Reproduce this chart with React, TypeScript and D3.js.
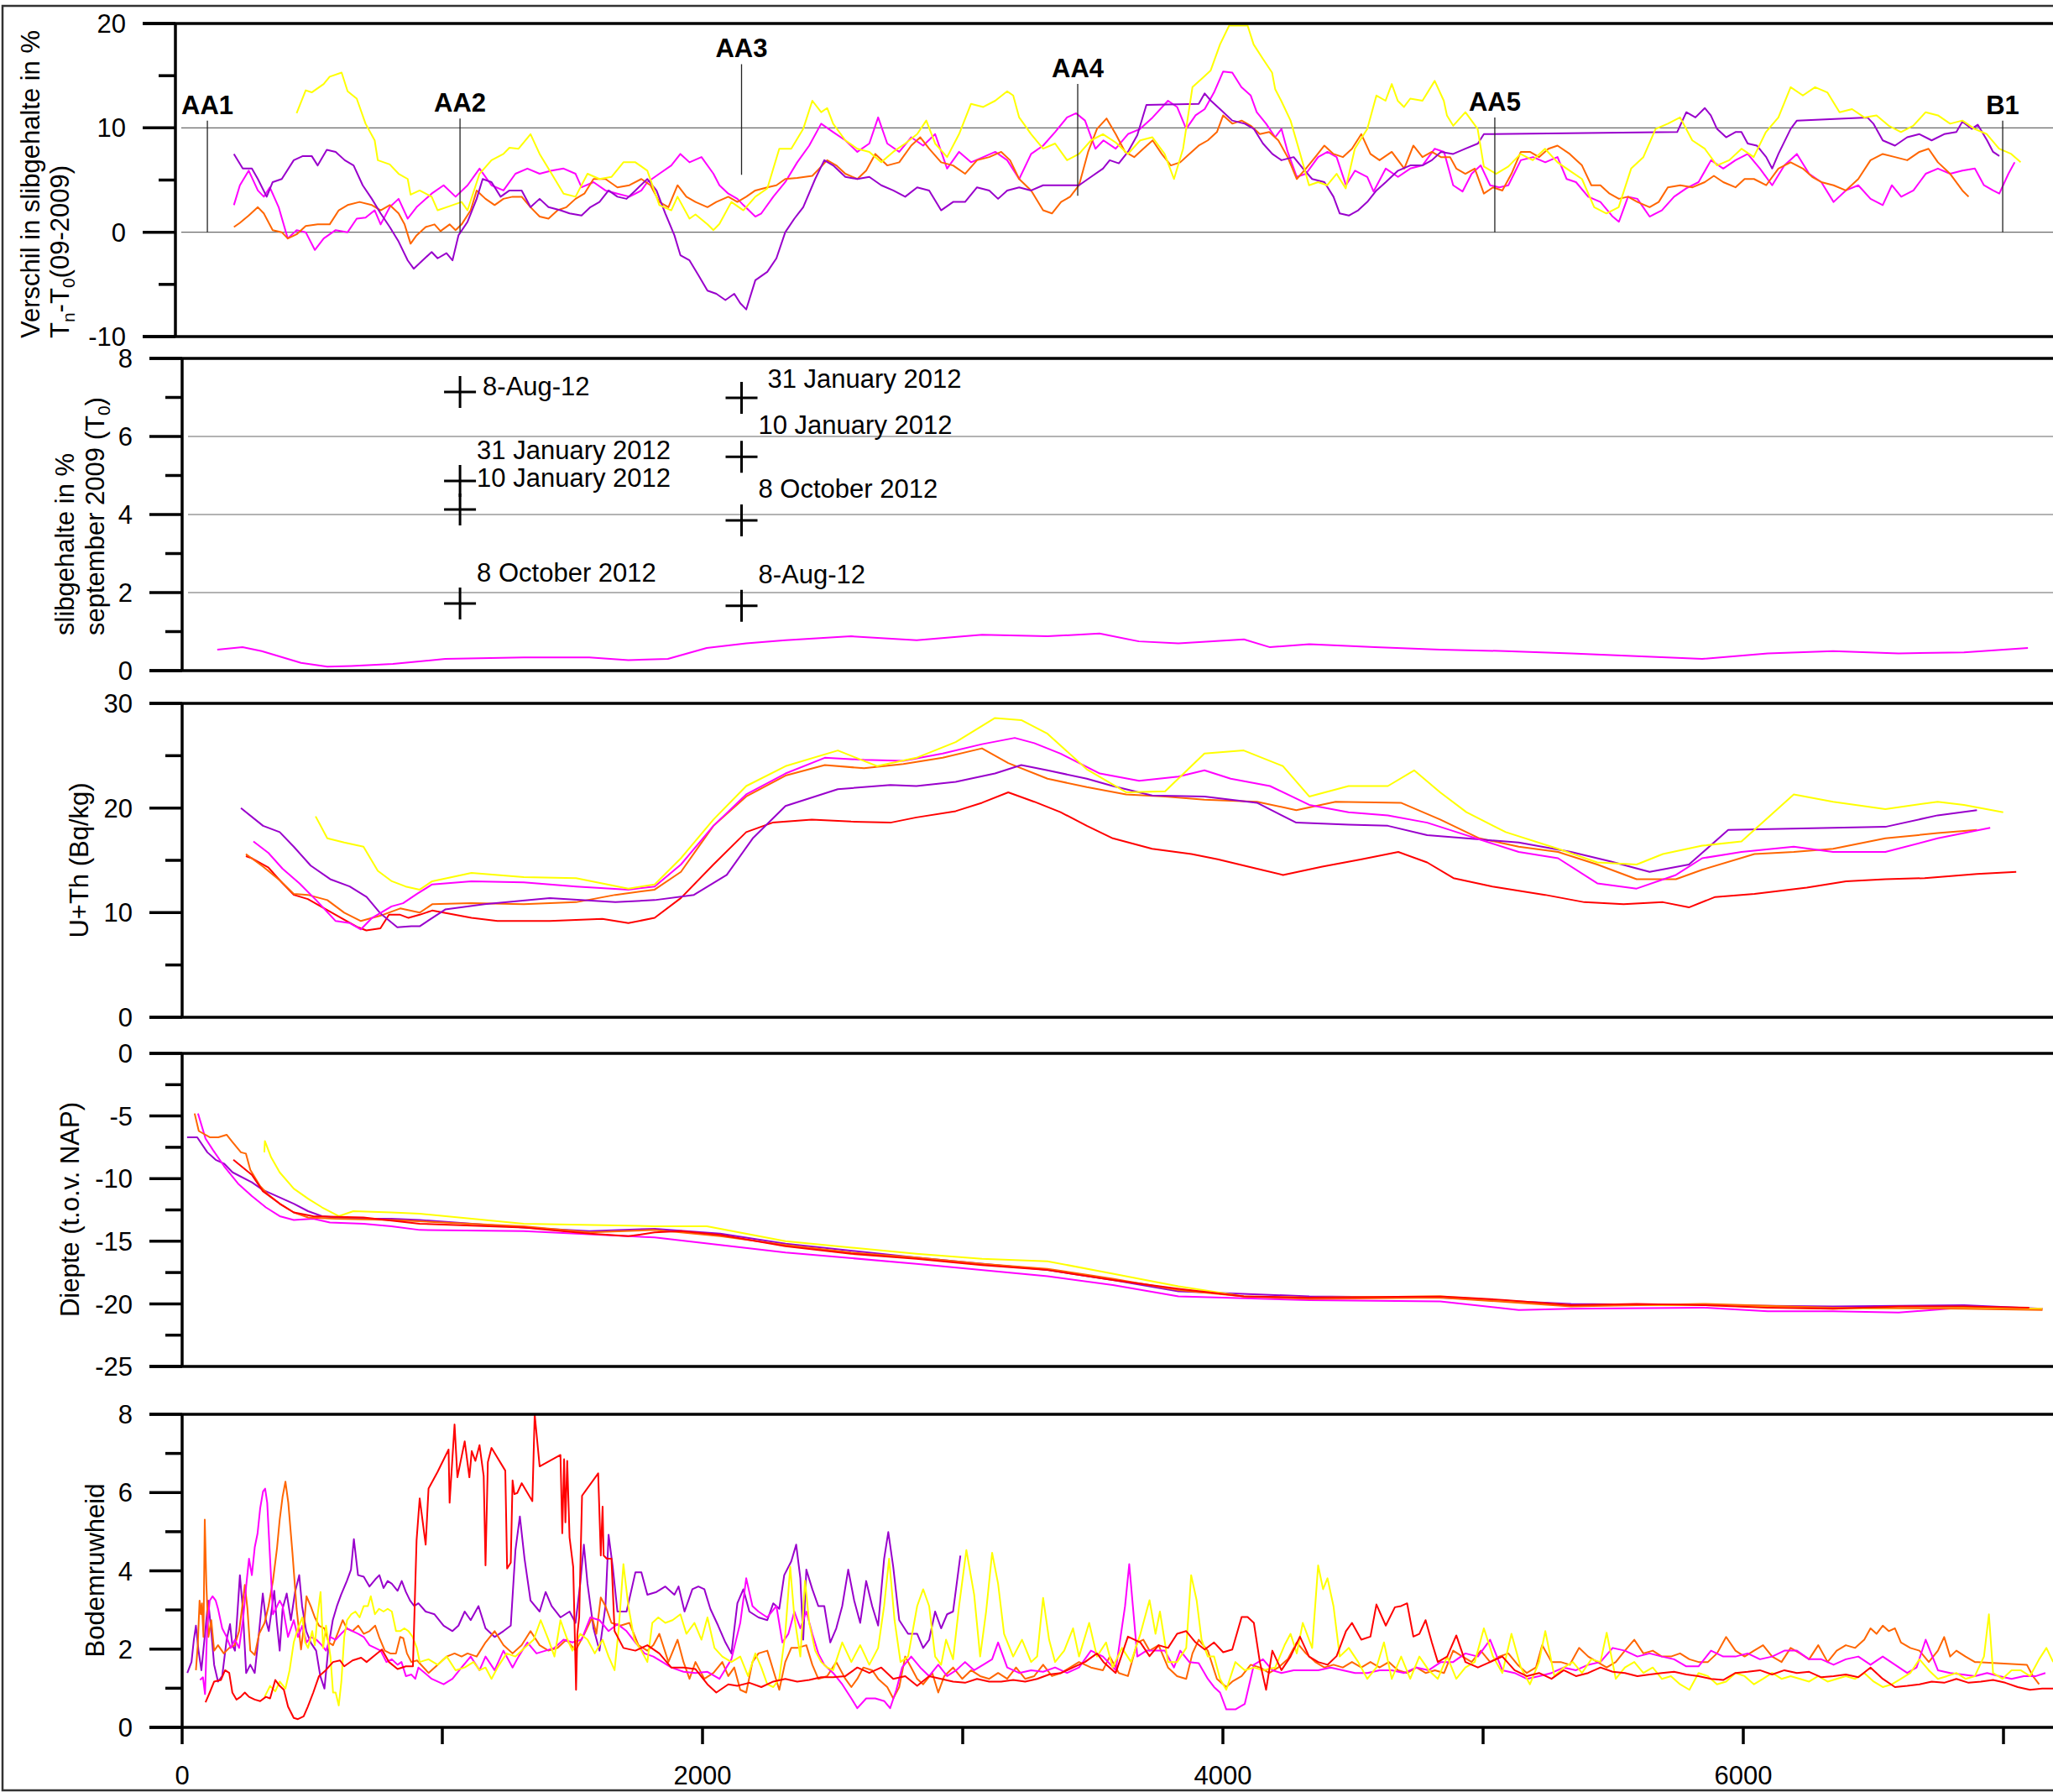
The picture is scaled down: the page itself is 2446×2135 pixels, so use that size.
import React from 'react';
import * as d3 from 'd3';

type Pt = [number, number];

const WIDTH = 2446;
const HEIGHT = 2135;
const FONT = "'Liberation Sans', Arial, Helvetica, sans-serif";

const YELLOW = '#FFFF00';
const MAGENTA = '#FF00FF';
const PURPLE = '#9900CC';
const ORANGE = '#FF6600';
const RED = '#FF0000';

// distance along the track (m)
const xTickValues = [0, 1000, 2000, 3000, 4000, 5000, 6000, 7000];
const xTickLabels = [0, 2000, 4000, 6000];

// ---- panel 1: verschil in slibgehalte T_n - T_0 ----
const verschilYellow: Pt[] = [[440,11.4],[475,13.6],[498,13.4],[544,14.2],[567,14.9],[613,15.3],[636,13.5],[671,12.8],[705,10.4],[740,8.8],[752,6.9],[798,6.5],[832,5.6],[867,5.1],[878,3.6],[913,4.0],[959,3.4],[982,2.1],[1028,2.5],[1074,2.9],[1097,2.1],[1143,5.6],[1189,6.9],[1235,7.5],[1258,8.1],[1293,8.0],[1339,9.4],[1374,7.5],[1420,5.6],[1466,3.7],[1512,3.4],[1558,5.6],[1604,5.1],[1650,5.3],[1696,6.7],[1742,6.7],[1788,5.9],[1834,2.6],[1880,2.1],[1904,3.4],[1950,1.3],[1973,1.7],[2019,0.75],[2042,0.2],[2065,0.8],[2111,2.9],[2157,2.1],[2203,3.4],[2249,4.2],[2295,8.0],[2341,8.0],[2387,9.9],[2422,12.6],[2456,11.5],[2479,11.9],[2502,10.4],[2549,8.8],[2595,8.0],[2641,7.7],[2687,6.7],[2733,7.7],[2779,8.5],[2825,9.4],[2860,10.7],[2894,8.5],[2940,7.2],[2986,9.4],[3032,12.3],[3079,12.0],[3125,12.6],[3171,13.5],[3194,13.1],[3217,11.0],[3263,9.4],[3309,8.0],[3355,8.5],[3401,6.9],[3447,7.5],[3493,8.8],[3539,9.4],[3588,8.6],[3635,7.5],[3682,8.8],[3729,9.1],[3776,7.5],[3812,5.1],[3847,8.0],[3883,13.9],[3918,14.7],[3953,15.5],[3989,18.0],[4024,19.8],[4095,19.8],[4118,18.0],[4154,16.6],[4189,15.3],[4201,13.7],[4224,12.6],[4260,10.7],[4295,7.7],[4331,4.5],[4366,4.8],[4401,4.5],[4437,5.6],[4472,4.2],[4507,8.0],[4555,9.9],[4590,13.1],[4625,12.6],[4649,14.2],[4672,12.6],[4696,12.0],[4720,12.8],[4767,12.6],[4814,14.5],[4849,12.6],[4861,11.2],[4885,10.2],[4932,11.5],[4979,9.9],[5003,6.3],[5050,5.6],[5097,6.3],[5144,7.5],[5191,6.9],[5238,8.0],[5286,6.7],[5333,5.9],[5380,5.1],[5427,2.4],[5474,1.8],[5521,2.4],[5569,6.1],[5616,7.2],[5663,9.9],[5710,10.4],[5757,11.0],[5804,8.8],[5852,8.0],[5899,6.4],[5946,6.9],[5993,8.0],[6040,7.2],[6087,9.6],[6135,11.0],[6182,13.9],[6229,13.1],[6276,13.9],[6323,13.4],[6370,11.5],[6418,11.8],[6465,11.0],[6512,11.2],[6559,10.2],[6606,9.6],[6653,10.2],[6701,11.5],[6748,11.2],[6795,10.4],[6842,10.7],[6889,9.9],[6936,9.4],[6983,8.0],[7030,7.5],[7066,6.7]];

const verschilMagenta: Pt[] = [[199,2.6],[222,4.5],[256,5.9],[291,4.0],[314,3.4],[337,4.3],[371,2.4],[406,-0.6],[440,0.2],[475,0.0],[510,-1.7],[544,-0.6],[590,0.2],[636,0.0],[671,1.3],[705,1.4],[740,2.1],[763,0.75],[798,2.4],[832,3.2],[867,1.3],[901,2.4],[959,3.7],[1005,4.5],[1051,3.4],[1097,4.5],[1143,6.1],[1189,4.5],[1235,4.0],[1281,5.6],[1327,6.1],[1374,5.6],[1420,5.9],[1466,6.1],[1512,5.6],[1535,4.3],[1581,4.8],[1627,4.0],[1673,3.7],[1719,3.4],[1765,4.0],[1788,4.8],[1834,5.6],[1880,6.4],[1915,7.5],[1950,6.7],[1996,7.2],[2042,5.6],[2065,4.5],[2099,3.7],[2134,3.2],[2157,2.6],[2203,1.5],[2226,1.8],[2272,3.4],[2318,4.8],[2364,6.7],[2410,8.3],[2456,10.4],[2502,9.6],[2549,8.8],[2595,7.7],[2641,8.5],[2675,11.0],[2710,8.5],[2756,7.7],[2802,9.1],[2848,8.3],[2894,9.4],[2940,6.1],[2986,7.7],[3032,6.7],[3079,7.2],[3125,7.7],[3171,6.9],[3217,5.1],[3263,7.5],[3309,8.3],[3355,9.6],[3401,11.0],[3436,11.4],[3470,10.7],[3510,8.0],[3541,8.8],[3588,8.0],[3635,9.4],[3682,9.9],[3730,11.0],[3789,12.6],[3824,12.0],[3859,9.9],[3895,11.2],[3930,11.8],[3966,13.4],[4001,15.4],[4036,15.3],[4071,13.9],[4107,13.1],[4130,11.5],[4166,10.4],[4201,9.1],[4225,9.9],[4249,7.7],[4284,5.3],[4319,5.6],[4366,7.2],[4402,7.7],[4437,7.2],[4473,4.5],[4508,5.9],[4555,5.3],[4579,3.9],[4626,6.1],[4673,5.3],[4720,6.1],[4767,6.4],[4814,8.0],[4850,7.7],[4885,4.5],[4921,3.9],[4956,5.6],[4991,6.4],[5027,4.5],[5062,4.3],[5097,4.5],[5145,6.9],[5192,7.2],[5239,6.7],[5286,7.2],[5321,5.1],[5357,4.8],[5404,3.4],[5451,2.9],[5498,1.5],[5522,1.0],[5557,3.4],[5593,3.2],[5640,1.5],[5687,2.1],[5734,3.4],[5781,4.2],[5828,4.8],[5876,6.9],[5923,6.1],[5970,6.9],[6017,7.5],[6064,6.1],[6111,4.5],[6158,6.4],[6206,7.5],[6253,5.6],[6300,4.8],[6347,2.9],[6394,4.0],[6442,4.5],[6489,3.2],[6536,2.6],[6571,4.5],[6607,3.4],[6654,4.0],[6701,5.6],[6748,6.1],[6795,5.6],[6842,5.9],[6890,6.1],[6925,4.5],[6960,4.0],[6984,3.7],[7019,5.6],[7043,6.7]];

const verschilPurple: Pt[] = [[199,7.5],[233,6.1],[268,6.1],[291,5.1],[325,3.4],[348,4.8],[383,5.1],[429,6.9],[464,7.3],[498,7.3],[521,6.4],[556,7.9],[590,7.7],[625,6.9],[659,6.4],[694,4.5],[729,3.2],[763,1.8],[798,0.5],[832,-0.9],[867,-2.7],[890,-3.5],[924,-2.7],[959,-1.9],[982,-2.5],[1016,-2.0],[1039,-2.7],[1062,-0.3],[1097,1.0],[1132,3.2],[1155,5.1],[1189,4.8],[1224,3.4],[1258,4.0],[1305,4.0],[1339,2.4],[1374,3.2],[1408,2.4],[1454,2.1],[1489,1.8],[1535,1.6],[1569,2.4],[1604,2.9],[1639,4.0],[1673,3.4],[1708,3.2],[1742,4.0],[1788,5.1],[1823,4.0],[1857,1.8],[1892,-0.3],[1915,-2.2],[1950,-2.7],[1984,-4.1],[2019,-5.6],[2053,-5.9],[2088,-6.5],[2122,-5.9],[2145,-6.8],[2168,-7.4],[2203,-4.6],[2249,-3.8],[2284,-2.5],[2318,0.0],[2353,1.3],[2387,2.4],[2433,5.1],[2468,6.9],[2502,6.4],[2549,5.3],[2595,5.1],[2641,5.3],[2687,4.5],[2733,4.0],[2779,3.4],[2825,4.3],[2871,4.0],[2917,2.1],[2963,2.9],[3009,2.9],[3055,4.3],[3102,4.0],[3136,3.2],[3171,4.0],[3217,4.3],[3263,4.0],[3309,4.5],[3355,4.5],[3401,4.5],[3447,4.5],[3493,5.3],[3539,6.1],[3565,6.9],[3600,6.6],[3635,7.7],[3671,9.3],[3706,12.2],[3907,12.3],[3930,13.3],[3954,12.6],[3989,11.8],[4036,10.7],[4084,10.4],[4119,9.9],[4154,8.5],[4190,7.5],[4225,6.9],[4272,7.2],[4308,6.1],[4343,5.1],[4390,4.8],[4425,3.4],[4449,1.8],[4484,1.6],[4520,2.1],[4555,2.9],[4590,4.0],[4626,4.8],[4673,5.9],[4720,6.4],[4767,6.4],[4803,6.9],[4838,7.7],[4885,7.5],[4932,8.0],[4980,8.5],[5003,9.4],[5746,9.6],[5781,11.5],[5816,11.0],[5852,11.9],[5875,11.2],[5899,9.9],[5934,9.1],[5970,9.6],[5993,9.6],[6017,8.5],[6052,8.3],[6088,7.2],[6111,6.1],[6135,7.5],[6182,9.9],[6206,10.7],[6477,11.0],[6500,10.4],[6536,8.8],[6583,8.3],[6630,9.1],[6677,9.4],[6724,8.8],[6772,9.4],[6819,9.6],[6842,10.6],[6878,9.9],[6901,10.3],[6937,8.8],[6960,7.7],[6984,7.3]];

const verschilOrange: Pt[] = [[199,0.5],[222,0.9],[256,1.6],[291,2.4],[314,1.8],[348,0.2],[383,0.0],[406,-0.6],[440,-0.2],[475,0.6],[521,0.75],[567,0.75],[602,2.1],[636,2.6],[682,2.9],[729,2.6],[763,2.1],[798,2.6],[832,1.8],[855,0.75],[878,-1.1],[901,-0.3],[936,0.5],[970,0.75],[993,0.1],[1028,0.75],[1051,0.2],[1074,0.75],[1109,2.1],[1132,4.0],[1166,3.2],[1201,2.6],[1235,3.2],[1270,3.4],[1305,3.4],[1339,2.4],[1374,1.5],[1408,1.3],[1443,2.1],[1477,2.4],[1512,3.2],[1546,3.7],[1581,5.1],[1627,5.1],[1673,4.3],[1719,4.5],[1765,5.1],[1800,4.5],[1834,2.9],[1869,2.4],[1904,4.5],[1938,3.4],[1973,2.9],[2019,2.4],[2053,2.9],[2099,3.4],[2134,2.9],[2168,3.4],[2203,4.0],[2249,4.3],[2284,4.5],[2318,5.1],[2364,5.2],[2422,5.4],[2445,6.0],[2479,6.9],[2514,6.4],[2549,5.6],[2595,5.1],[2629,5.9],[2664,7.5],[2710,6.4],[2756,6.7],[2802,8.3],[2837,9.1],[2871,8.0],[2917,6.7],[2963,6.4],[3009,5.6],[3055,6.9],[3102,7.2],[3148,7.7],[3182,6.9],[3217,5.1],[3263,4.0],[3309,2.1],[3343,1.8],[3378,2.9],[3413,3.4],[3447,4.5],[3482,7.7],[3516,9.9],[3553,10.9],[3588,9.4],[3624,7.7],[3659,7.2],[3694,8.0],[3730,8.8],[3765,7.5],[3800,6.4],[3836,6.7],[3871,7.5],[3907,8.3],[3942,8.8],[3977,9.6],[4001,11.2],[4036,10.4],[4072,10.7],[4107,10.2],[4142,9.4],[4178,9.6],[4213,8.8],[4249,7.2],[4284,5.1],[4319,6.1],[4355,7.2],[4390,8.3],[4425,7.5],[4461,7.2],[4496,8.0],[4532,9.4],[4567,7.5],[4602,6.9],[4649,7.7],[4697,6.1],[4732,8.3],[4767,7.2],[4803,7.7],[4838,7.2],[4873,7.2],[4897,6.1],[4932,5.6],[4968,6.1],[5003,3.7],[5038,4.3],[5074,4.0],[5109,5.6],[5145,7.7],[5180,7.7],[5215,7.2],[5251,8.0],[5286,8.3],[5333,7.5],[5380,6.4],[5416,4.5],[5451,4.5],[5486,3.7],[5522,3.2],[5557,3.4],[5593,2.9],[5640,2.4],[5675,2.9],[5710,4.3],[5758,4.5],[5805,4.3],[5852,4.8],[5887,5.4],[5923,4.8],[5970,4.3],[6005,5.1],[6041,5.1],[6088,4.5],[6135,6.1],[6182,6.7],[6229,6.1],[6265,5.3],[6300,4.8],[6347,4.5],[6394,4.0],[6442,5.1],[6489,6.9],[6536,7.5],[6583,7.2],[6630,6.9],[6677,7.7],[6712,8.0],[6748,6.7],[6795,5.6],[6842,4.0],[6866,3.4]];

// markers along the track
const markerNames = ['AA1', 'AA2', 'AA3', 'AA4', 'AA5', 'B1'];
const markerX = [97, 1068, 2150, 3442, 5045, 6997];
const markerLow = [0, 0, 5.5, 3.5, 0, 0];
const markerHigh = [10.7, 10.9, 16.1, 14.2, 11.0, 10.7];

// ---- panel 2: slibgehalte september 2009 ----
const slibT0: Pt[] = [[135,0.54],[232,0.6],[306,0.5],[457,0.2],[558,0.1],[650,0.12],[810,0.17],[1011,0.3],[1313,0.34],[1565,0.34],[1715,0.27],[1867,0.3],[2016,0.58],[2168,0.7],[2319,0.78],[2571,0.88],[2823,0.78],[3074,0.92],[3326,0.88],[3526,0.95],[3677,0.75],[3829,0.7],[4081,0.8],[4181,0.6],[4332,0.68],[4584,0.6],[4835,0.54],[5087,0.5],[5339,0.44],[5590,0.37],[5842,0.3],[6094,0.44],[6345,0.5],[6597,0.44],[6848,0.47],[7094,0.58]];

const sampleDates = ['8-Aug-12', '31 January 2012', '10 January 2012', '8 October 2012', '31 January 2012', '10 January 2012', '8 October 2012', '8-Aug-12'];
const sampleX = [1068, 1068, 1068, 1068, 2150, 2150, 2150, 2150];
const sampleSlib = [7.14, 4.86, 4.13, 1.72, 6.99, 5.48, 3.85, 1.66];
// label offsets (px) relative to each cross
const sampleLabelOffset: Pt[] = [[27, 4], [20, -26], [20, -27], [20, -26], [31, -12], [20, -27], [20, -27], [20, -27]];

// ---- panel 3: U+Th ----
const uthRed: Pt[] = [[245,15.4],[268,15.2],[332,14.3],[386,12.8],[429,11.7],[483,11.3],[547,10.4],[611,9.5],[676,8.6],[708,8.3],[762,8.5],[795,9.8],[838,9.8],[870,9.5],[913,9.8],[961,10.2],[1112,9.5],[1212,9.2],[1413,9.2],[1615,9.4],[1715,9.0],[1816,9.5],[1917,11.4],[2042,14.6],[2168,17.7],[2269,18.6],[2420,18.9],[2571,18.7],[2722,18.6],[2822,19.1],[2973,19.7],[3074,20.5],[3175,21.5],[3275,20.6],[3376,19.6],[3477,18.3],[3577,17.1],[3728,16.1],[3879,15.6],[3980,15.1],[4131,14.2],[4231,13.6],[4382,14.4],[4533,15.1],[4674,15.8],[4785,14.8],[4886,13.3],[5036,12.5],[5238,11.7],[5389,11.0],[5540,10.8],[5691,11.0],[5791,10.5],[5892,11.5],[6043,11.8],[6244,12.4],[6395,13.0],[6546,13.2],[6697,13.3],[6898,13.7],[7049,13.9]];
const uthOrange: Pt[] = [[245,15.6],[311,14.4],[375,13.1],[429,11.8],[483,11.7],[558,11.2],[623,10.0],[687,9.2],[761,9.7],[838,10.4],[913,10.0],[961,10.8],[1112,10.9],[1313,10.8],[1514,11.0],[1665,11.7],[1816,12.2],[1917,13.9],[2042,18.3],[2168,21.1],[2319,23.1],[2470,24.1],[2621,23.8],[2772,24.2],[2923,24.8],[3074,25.7],[3175,24.3],[3326,22.8],[3477,22.0],[3628,21.3],[3778,21.1],[3929,20.8],[4131,20.6],[4282,19.8],[4433,20.6],[4684,20.5],[4835,18.9],[4986,17.1],[5137,16.3],[5288,15.8],[5439,14.6],[5590,13.2],[5741,13.2],[5842,14.1],[6043,15.6],[6194,15.8],[6345,16.1],[6546,17.1],[6747,17.6],[6898,17.9]];
const uthMagenta: Pt[] = [[274,16.8],[332,15.7],[386,14.2],[451,12.8],[515,11.2],[590,9.2],[645,9.0],[687,8.4],[730,9.5],[805,10.6],[849,10.9],[903,11.8],[961,12.7],[1112,13.0],[1313,12.9],[1514,12.5],[1715,12.2],[1816,12.5],[1917,14.6],[2042,18.3],[2168,21.3],[2319,23.3],[2470,24.8],[2621,24.6],[2772,24.5],[2923,25.2],[3074,26.1],[3200,26.7],[3275,26.2],[3376,25.2],[3527,23.3],[3678,22.6],[3829,23.0],[3929,23.6],[4030,22.8],[4181,22.1],[4332,20.3],[4483,19.6],[4634,19.3],[4785,18.6],[4936,17.4],[5137,15.8],[5288,15.2],[5439,12.8],[5590,12.3],[5741,13.6],[5842,15.2],[5993,15.8],[6194,16.3],[6345,15.8],[6546,15.8],[6747,17.1],[6949,18.1]];
const uthPurple: Pt[] = [[226,20.0],[311,18.3],[375,17.7],[429,16.3],[494,14.5],[569,13.2],[644,12.5],[709,11.5],[763,9.9],[827,8.6],[881,8.7],[913,8.7],[1011,10.3],[1162,10.8],[1413,11.4],[1665,11.0],[1816,11.2],[1967,11.7],[2093,13.6],[2193,17.1],[2319,20.2],[2520,21.8],[2722,22.2],[2822,22.1],[2973,22.5],[3124,23.3],[3225,24.1],[3326,23.6],[3477,22.8],[3577,22.1],[3728,21.2],[3929,21.1],[4030,20.8],[4131,20.5],[4282,18.6],[4483,18.4],[4634,18.3],[4785,17.4],[4936,17.1],[5137,16.7],[5338,15.8],[5489,14.9],[5640,13.9],[5791,14.6],[5942,17.9],[6546,18.2],[6747,19.3],[6898,19.8]];
const uthYellow: Pt[] = [[513,19.2],[558,17.1],[623,16.7],[697,16.3],[752,14.0],[806,13.0],[859,12.5],[913,12.2],[961,13.0],[1112,13.8],[1313,13.4],[1514,13.3],[1715,12.3],[1816,12.7],[1917,15.2],[2042,18.9],[2168,22.1],[2319,24.0],[2520,25.5],[2671,24.0],[2822,24.8],[2973,26.3],[3124,28.6],[3225,28.4],[3326,27.1],[3477,23.7],[3628,21.5],[3778,21.6],[3929,25.2],[4080,25.5],[4231,24.0],[4332,21.1],[4483,22.1],[4634,22.1],[4735,23.6],[4835,21.5],[4936,19.6],[5087,17.7],[5288,16.1],[5439,14.8],[5590,14.6],[5691,15.6],[5842,16.4],[5993,16.8],[6194,21.3],[6345,20.6],[6546,19.9],[6747,20.6],[6848,20.3],[6999,19.6]];

// ---- panel 4: diepte t.o.v. NAP ----
const diepPurple: Pt[] = [[19,-6.7],[58,-6.7],[97,-7.9],[129,-8.5],[161,-8.8],[194,-9.5],[268,-10.3],[310,-10.9],[375,-11.5],[429,-12.0],[484,-12.6],[538,-13.0],[590,-13.1],[697,-13.2],[804,-13.2],[913,-13.3],[1313,-13.9],[1565,-14.2],[1816,-14.0],[2068,-14.4],[2319,-15.2],[2822,-16.3],[3326,-17.3],[3577,-18.1],[3829,-19.0],[4332,-19.4],[4835,-19.5],[5338,-20.0],[5842,-20.1],[6345,-20.2],[6848,-20.1],[7150,-20.4]];
const diepOrange: Pt[] = [[48,-4.8],[64,-6.2],[106,-6.7],[139,-6.7],[171,-6.5],[194,-7.1],[226,-7.9],[245,-8.0],[262,-9.3],[300,-10.6],[332,-11.3],[375,-12.0],[429,-12.7],[484,-13.1],[590,-13.2],[800,-13.3],[1000,-13.5],[1313,-13.8],[1565,-14.3],[1816,-14.1],[2068,-14.6],[2319,-15.3],[2571,-15.9],[2822,-16.3],[3074,-16.8],[3326,-17.2],[3577,-18.0],[3829,-18.9],[4080,-19.4],[4332,-19.6],[4835,-19.5],[5338,-20.2],[5842,-20.0],[6345,-20.3],[6848,-20.4],[7150,-20.5]];
const diepMagenta: Pt[] = [[61,-4.8],[90,-6.8],[118,-7.7],[161,-9.0],[215,-10.4],[268,-11.4],[322,-12.3],[375,-13.0],[429,-13.3],[504,-13.2],[568,-13.5],[697,-13.6],[804,-13.8],[913,-14.1],[1313,-14.2],[1816,-14.7],[2319,-15.9],[2822,-16.8],[3326,-17.8],[3577,-18.5],[3829,-19.4],[4332,-19.7],[4835,-19.8],[5137,-20.5],[5338,-20.4],[5842,-20.3],[6094,-20.6],[6345,-20.6],[6597,-20.7],[6848,-20.3],[7150,-20.4]];
const diepRed: Pt[] = [[197,-8.5],[268,-9.7],[310,-11.0],[375,-12.0],[429,-12.7],[504,-13.0],[697,-13.1],[913,-13.6],[1313,-13.9],[1565,-14.4],[1715,-14.6],[1816,-14.3],[1917,-14.2],[2068,-14.5],[2319,-15.4],[2571,-16.0],[2822,-16.4],[3074,-16.9],[3326,-17.3],[3577,-18.1],[3829,-18.8],[4080,-19.4],[4332,-19.5],[4835,-19.4],[5087,-19.7],[5338,-20.1],[5590,-20.0],[5842,-20.1],[6094,-20.3],[6345,-20.4],[6597,-20.2],[6848,-20.2],[7099,-20.3]];
const diepYellow: Pt[] = [[316,-7.9],[318,-7.0],[342,-8.3],[375,-9.5],[429,-10.8],[484,-11.6],[538,-12.3],[602,-13.0],[658,-12.6],[804,-12.7],[913,-12.8],[1313,-13.6],[1816,-13.8],[2017,-13.8],[2319,-15.0],[2822,-16.0],[3074,-16.4],[3326,-16.6],[3577,-17.6],[3829,-18.6],[4080,-19.4],[4332,-19.5],[4835,-19.4],[5338,-20.1],[5842,-20.1],[6345,-20.4],[6848,-20.3],[7150,-20.4]];

// ---- panel 5: bodemruwheid ----
const ruwRed: Pt[] = [[90,0.64],[106,0.89],[123,1.17],[149,1.21],[165,1.46],[181,1.39],[193,0.89],[209,0.71],[225,0.78],[241,0.89],[257,0.78],[279,0.71],[300,0.67],[322,0.78],[338,0.74],[358,1.21],[375,1.06],[391,0.96],[407,0.53],[429,0.24],[445,0.21],[467,0.28],[483,0.53],[504,0.89],[526,1.31],[552,1.46],[580,1.67],[607,1.71],[623,1.56],[655,1.71],[688,1.78],[709,1.67],[742,1.85],[768,1.99],[795,1.67],[828,1.49],[860,1.56],[887,1.56],[901,4.78],[913,5.85],[936,4.67],[947,6.1],[982,6.53],[1024,7.1],[1028,5.74],[1047,7.74],[1058,6.39],[1086,7.31],[1104,6.39],[1113,7.06],[1127,6.81],[1143,7.21],[1159,6.42],[1166,4.14],[1175,6.78],[1189,7.14],[1242,6.56],[1249,4.06],[1263,4.21],[1270,6.31],[1277,5.96],[1288,5.99],[1305,6.24],[1346,5.78],[1355,8.0],[1374,6.67],[1454,6.96],[1461,4.96],[1468,6.85],[1473,5.24],[1480,6.81],[1489,4.85],[1503,4.1],[1514,0.96],[1519,2.39],[1526,2.81],[1537,5.92],[1599,6.49],[1609,4.39],[1616,5.64],[1620,4.39],[1632,4.31],[1650,4.31],[1662,2.46],[1696,2.03],[1742,1.96],[1788,2.1],[1834,1.89],[1880,1.53],[1927,1.53],[1973,1.49],[2019,1.1],[2053,0.89],[2099,1.1],[2134,1.06],[2180,1.14],[2226,1.03],[2272,1.17],[2318,1.24],[2364,1.17],[2410,1.21],[2456,1.28],[2502,1.28],[2549,1.31],[2595,1.53],[2641,1.39],[2687,1.53],[2733,1.24],[2779,1.31],[2825,1.06],[2871,1.31],[2917,1.24],[2963,1.17],[3009,1.14],[3055,1.24],[3102,1.17],[3148,1.17],[3194,1.21],[3240,1.17],[3286,1.24],[3332,1.35],[3378,1.39],[3424,1.53],[3470,1.67],[3516,1.89],[3541,1.67],[3588,1.39],[3635,2.32],[3683,2.17],[3718,1.82],[3753,2.1],[3789,2.03],[3824,2.39],[3859,2.46],[3895,2.17],[3930,1.99],[3966,2.17],[4001,1.92],[4036,1.99],[4072,2.82],[4095,2.82],[4119,2.67],[4142,1.67],[4166,0.96],[4190,1.96],[4225,1.46],[4260,1.81],[4296,2.32],[4331,1.81],[4366,1.67],[4402,1.6],[4437,1.82],[4473,2.46],[4496,2.67],[4532,2.24],[4567,2.32],[4590,3.14],[4626,2.6],[4661,3.07],[4685,3.1],[4708,3.17],[4732,2.32],[4755,2.39],[4779,2.74],[4803,2.17],[4826,1.67],[4862,1.81],[4897,2.35],[4932,1.67],[4980,1.53],[5027,1.67],[5074,1.81],[5121,1.46],[5168,1.31],[5215,1.39],[5263,1.24],[5310,1.46],[5357,1.31],[5404,1.39],[5451,1.53],[5498,1.42],[5545,1.39],[5593,1.31],[5640,1.35],[5687,1.39],[5734,1.42],[5781,1.35],[5828,1.31],[5876,1.24],[5923,1.21],[5970,1.39],[6017,1.42],[6064,1.46],[6111,1.35],[6158,1.46],[6206,1.39],[6253,1.42],[6300,1.28],[6347,1.31],[6394,1.35],[6442,1.28],[6489,1.53],[6536,1.24],[6583,1.03],[6630,1.06],[6677,1.1],[6724,1.17],[6772,1.14],[6819,1.24],[6866,1.14],[6913,1.17],[6960,1.21],[7007,1.14],[7055,1.03],[7102,0.96],[7149,0.99],[7191,0.99]];

const ruwMagenta: Pt[] = [[69,1.21],[80,1.28],[88,0.85],[96,2.53],[106,3.24],[117,3.35],[129,3.24],[138,3.03],[154,2.53],[171,2.31],[187,2.03],[203,2.24],[219,2.03],[235,2.81],[246,3.6],[257,4.31],[268,3.89],[279,4.6],[290,4.96],[300,5.6],[311,6.03],[319,6.1],[327,5.74],[338,4.31],[349,2.89],[360,3.03],[375,3.24],[386,3.1],[407,2.31],[429,2.74],[445,2.31],[462,2.6],[478,2.17],[495,2.31],[516,2.24],[537,2.1],[553,1.96],[570,2.31],[590,2.24],[611,2.39],[633,2.53],[655,2.46],[677,2.39],[698,2.31],[720,2.1],[742,2.03],[763,1.96],[785,1.67],[806,1.74],[828,1.6],[843,1.67],[860,1.31],[881,1.35],[896,1.24],[908,1.53],[959,1.24],[1005,1.1],[1039,1.24],[1074,1.53],[1109,1.81],[1143,1.46],[1166,1.81],[1201,1.46],[1235,1.96],[1270,1.53],[1293,1.81],[1327,2.17],[1362,1.89],[1397,1.96],[1431,2.03],[1466,2.24],[1500,2.17],[1535,2.24],[1569,2.81],[1604,2.74],[1639,2.46],[1673,2.64],[1708,2.46],[1742,2.17],[1777,1.89],[1811,1.81],[1846,1.67],[1880,1.53],[1927,1.42],[1973,1.39],[2019,1.42],[2065,1.24],[2111,1.74],[2145,2.67],[2168,3.81],[2192,3.1],[2215,2.96],[2249,2.81],[2284,3.1],[2307,2.17],[2330,2.39],[2353,2.96],[2376,2.53],[2399,2.96],[2422,2.39],[2445,1.89],[2468,1.6],[2502,1.39],[2537,1.1],[2572,0.74],[2595,0.49],[2629,0.74],[2664,0.74],[2699,0.67],[2721,0.49],[2745,0.96],[2767,1.53],[2802,1.81],[2837,1.53],[2871,1.31],[2906,1.6],[2940,1.31],[2975,1.46],[3009,1.67],[3044,1.46],[3079,1.6],[3113,1.74],[3136,2.17],[3171,1.53],[3217,1.39],[3263,1.46],[3309,1.42],[3355,1.53],[3401,1.39],[3447,1.53],[3493,1.96],[3539,1.81],[3588,1.46],[3624,3.1],[3640,4.17],[3654,3.1],[3671,1.81],[3706,1.96],[3741,1.96],[3777,1.96],[3812,1.53],[3836,1.96],[3871,1.67],[3907,1.64],[3942,1.24],[3966,1.03],[3989,0.89],[4013,0.46],[4048,0.46],[4084,0.6],[4119,1.6],[4154,1.74],[4190,1.46],[4225,1.39],[4272,1.46],[4319,1.46],[4366,1.46],[4414,1.53],[4461,1.46],[4508,1.39],[4555,1.39],[4602,1.46],[4649,1.46],[4697,1.39],[4744,1.53],[4791,1.46],[4838,1.67],[4885,1.67],[4932,1.89],[4980,1.81],[5027,2.24],[5074,1.46],[5121,1.39],[5168,1.24],[5215,1.31],[5263,1.39],[5310,1.53],[5357,1.46],[5404,1.6],[5451,1.67],[5498,2.03],[5545,1.96],[5593,1.81],[5640,1.89],[5687,1.81],[5734,1.74],[5781,1.56],[5828,1.56],[5876,1.96],[5923,1.81],[5970,1.81],[6017,1.89],[6064,1.74],[6111,1.81],[6158,1.96],[6206,1.96],[6253,1.74],[6300,1.74],[6347,1.6],[6394,1.74],[6442,1.81],[6489,1.6],[6536,1.81],[6583,1.6],[6630,1.39],[6666,1.53],[6701,2.24],[6748,1.46],[6795,1.39],[6842,1.35],[6890,1.31],[6937,1.39],[6984,1.31],[7031,1.24],[7078,1.31],[7125,1.31],[7161,1.39]];

const ruwPurple: Pt[] = [[20,1.39],[36,1.67],[45,2.24],[53,2.6],[63,1.96],[74,1.46],[90,2.53],[100,3.24],[112,2.46],[123,1.6],[138,1.17],[154,1.31],[171,2.24],[184,2.64],[193,2.1],[203,1.96],[222,3.89],[233,3.03],[246,1.39],[262,1.6],[279,1.39],[296,2.46],[310,3.42],[322,2.74],[333,2.46],[354,3.49],[364,2.67],[375,1.96],[386,3.03],[402,3.42],[418,2.74],[434,3.46],[450,3.89],[461,3.1],[477,2.46],[494,2.17],[515,1.96],[531,1.31],[547,0.99],[563,2.1],[579,2.74],[595,3.1],[611,3.39],[633,3.74],[649,4.03],[660,4.81],[676,3.89],[698,3.85],[720,3.6],[742,3.78],[758,3.89],[774,3.56],[790,3.74],[806,3.67],[828,3.49],[844,3.74],[860,3.46],[876,3.24],[892,3.1],[908,3.17],[936,2.96],[970,2.89],[1005,2.6],[1039,2.46],[1062,2.6],[1086,2.96],[1109,2.74],[1139,3.1],[1166,2.53],[1201,2.31],[1235,2.46],[1263,2.6],[1281,4.53],[1298,5.39],[1316,4.31],[1339,3.24],[1374,2.96],[1397,3.46],[1420,3.1],[1454,2.81],[1489,2.96],[1512,2.67],[1530,3.67],[1544,4.67],[1558,3.67],[1581,2.53],[1604,1.96],[1627,3.1],[1639,4.92],[1655,4.1],[1673,2.96],[1708,2.96],[1742,3.96],[1765,3.96],[1788,3.39],[1823,3.46],[1857,3.6],[1892,3.39],[1908,3.6],[1931,2.96],[1961,3.53],[1984,3.6],[2007,3.53],[2030,3.03],[2060,2.6],[2088,2.17],[2111,1.89],[2134,3.17],[2157,3.53],[2180,2.96],[2215,2.81],[2249,2.74],[2272,3.17],[2295,3.03],[2314,3.89],[2341,4.24],[2360,4.67],[2376,3.81],[2387,2.24],[2399,4.03],[2422,3.53],[2445,3.1],[2468,3.1],[2491,2.17],[2514,2.53],[2537,3.1],[2560,4.03],[2583,3.24],[2606,2.67],[2629,3.74],[2652,3.1],[2675,2.6],[2698,4.31],[2714,4.99],[2733,4.1],[2756,2.74],[2790,2.39],[2825,2.39],[2848,2.03],[2871,2.24],[2894,2.96],[2917,2.53],[2940,2.89],[2963,2.96],[2991,4.39]];

const ruwOrange: Pt[] = [[53,1.46],[60,2.1],[67,3.24],[72,2.89],[76,3.17],[82,2.31],[87,5.31],[93,3.67],[101,2.31],[112,2.74],[123,1.96],[138,2.1],[160,1.89],[181,2.03],[202,2.1],[219,2.46],[230,3.03],[241,3.64],[251,3.03],[262,1.96],[279,1.85],[296,2.39],[317,2.67],[332,3.1],[349,3.74],[365,4.6],[375,5.31],[386,5.89],[397,6.28],[408,5.74],[424,4.46],[440,3.03],[457,1.99],[467,2.53],[478,3.35],[494,3.1],[510,2.81],[526,2.6],[547,2.53],[563,2.17],[580,2.1],[601,2.46],[617,2.74],[633,2.53],[655,2.46],[677,2.6],[698,2.39],[720,2.46],[742,2.6],[757,2.31],[779,1.96],[800,1.89],[822,1.89],[838,2.31],[850,2.28],[864,1.89],[881,1.67],[903,1.71],[947,1.39],[982,1.6],[1017,1.81],[1047,1.89],[1074,1.81],[1097,1.89],[1132,1.81],[1166,2.17],[1201,2.46],[1235,2.1],[1270,1.89],[1305,2.1],[1339,2.46],[1374,2.1],[1408,1.96],[1443,2.03],[1477,2.24],[1512,1.96],[1546,2.39],[1576,2.81],[1592,2.39],[1609,3.32],[1627,3.1],[1650,2.67],[1685,2.6],[1719,2.67],[1754,2.1],[1788,1.96],[1811,2.1],[1834,2.39],[1869,1.67],[1904,2.24],[1927,1.67],[1950,1.24],[1973,1.67],[2007,1.24],[2042,1.39],[2076,1.67],[2099,1.31],[2122,1.53],[2145,0.96],[2168,0.89],[2192,1.67],[2215,1.89],[2249,1.96],[2272,1.46],[2295,0.96],[2318,1.67],[2341,2.03],[2364,2.03],[2399,2.1],[2422,1.6],[2445,1.24],[2479,1.31],[2514,1.67],[2549,1.24],[2572,1.03],[2595,1.24],[2618,1.53],[2652,1.46],[2675,1.24],[2710,1.03],[2733,0.74],[2756,1.03],[2779,1.81],[2802,1.53],[2825,1.24],[2848,1.1],[2883,1.39],[2906,0.89],[2929,1.31],[2963,1.53],[2998,1.24],[3032,1.46],[3067,1.31],[3102,1.24],[3136,1.39],[3171,1.24],[3205,1.53],[3240,1.24],[3275,1.31],[3309,1.6],[3343,1.31],[3378,1.39],[3413,1.53],[3447,1.67],[3493,1.53],[3539,1.46],[3565,1.81],[3600,1.39],[3635,1.31],[3671,2.17],[3694,2.24],[3718,1.96],[3753,2.1],[3789,1.53],[3824,1.31],[3859,1.24],[3883,1.89],[3907,2.24],[3942,1.96],[3977,1.24],[4013,1.03],[4036,1.17],[4072,1.31],[4107,1.6],[4142,1.53],[4178,1.39],[4213,1.53],[4249,1.74],[4284,2.17],[4319,1.89],[4355,1.67],[4390,1.53],[4425,1.6],[4461,1.53],[4496,1.67],[4532,1.53],[4567,1.67],[4602,1.53],[4638,1.67],[4673,1.46],[4708,1.39],[4744,1.53],[4779,1.39],[4815,1.46],[4850,1.39],[4885,1.96],[4921,1.81],[4956,1.67],[4991,1.96],[5027,1.67],[5062,1.81],[5097,1.89],[5133,1.6],[5168,1.39],[5203,1.53],[5227,2.1],[5263,1.67],[5298,1.67],[5333,1.6],[5369,2.03],[5404,1.81],[5439,1.67],[5475,1.53],[5510,1.67],[5545,1.96],[5581,2.24],[5616,1.89],[5652,1.96],[5687,1.81],[5722,1.81],[5757,1.89],[5793,1.74],[5828,1.67],[5864,1.67],[5899,1.89],[5934,2.31],[5970,1.96],[6005,1.81],[6041,1.96],[6076,2.1],[6111,1.81],[6147,1.67],[6182,2.03],[6218,1.89],[6253,1.74],[6288,2.1],[6324,1.67],[6359,1.96],[6394,2.1],[6430,2.03],[6465,2.24],[6489,2.53],[6512,2.39],[6536,2.6],[6559,2.46],[6583,2.53],[6606,2.17],[6642,2.03],[6677,1.96],[6713,1.67],[6748,1.96],[6772,2.31],[6795,1.81],[6819,1.96],[6854,1.81],[6890,1.67],[6901,1.67],[7090,1.6],[7113,1.31],[7137,1.1]];

const ruwYellow: Pt[] = [[317,0.78],[338,1.06],[358,0.92],[375,1.17],[397,0.99],[413,1.46],[429,2.17],[445,2.53],[462,2.81],[473,2.17],[484,2.03],[500,2.46],[510,2.1],[521,2.89],[532,3.46],[542,2.03],[553,2.6],[570,1.81],[580,0.89],[590,0.89],[602,0.56],[612,1.17],[623,2.31],[634,2.74],[650,2.89],[666,2.96],[682,2.81],[698,3.1],[714,3.1],[725,3.35],[741,2.89],[757,3.03],[774,2.96],[790,3.03],[806,2.96],[822,2.46],[838,2.46],[854,2.53],[870,2.46],[886,2.31],[902,2.03],[913,1.67],[947,1.74],[982,1.6],[1017,1.81],[1051,1.46],[1086,1.53],[1120,1.67],[1143,1.46],[1166,1.53],[1189,1.24],[1212,1.53],[1247,1.89],[1281,1.81],[1316,2.03],[1351,2.24],[1378,2.74],[1408,2.24],[1431,1.81],[1454,2.74],[1477,2.31],[1500,1.96],[1530,2.39],[1558,2.24],[1586,1.89],[1616,2.24],[1639,1.81],[1662,1.46],[1678,2.53],[1696,4.17],[1715,3.1],[1738,2.24],[1765,1.96],[1788,1.67],[1807,2.67],[1830,2.81],[1857,2.67],[1885,2.74],[1915,2.89],[1938,2.39],[1969,2.67],[1996,2.24],[2019,2.81],[2046,2.03],[2076,1.81],[2111,1.67],[2145,1.81],[2175,1.31],[2203,1.89],[2226,1.53],[2249,1.1],[2272,1.03],[2295,1.24],[2318,2.39],[2337,4.1],[2353,2.82],[2376,1.81],[2394,3.75],[2410,2.67],[2433,1.96],[2456,1.67],[2479,1.53],[2502,1.46],[2537,2.17],[2572,1.67],[2606,2.1],[2641,1.6],[2675,2.03],[2698,3.1],[2717,4.31],[2738,2.74],[2761,1.67],[2790,1.81],[2825,3.1],[2848,3.53],[2871,3.1],[2894,1.81],[2917,1.6],[2936,2.24],[2963,1.74],[2986,3.1],[3014,4.53],[3044,3.39],[3067,1.81],[3090,2.96],[3113,4.46],[3136,3.67],[3159,2.39],[3194,1.81],[3228,2.24],[3263,1.67],[3286,1.81],[3309,3.31],[3332,2.24],[3355,1.67],[3390,1.96],[3424,2.53],[3447,1.81],[3486,2.67],[3516,1.81],[3551,2.17],[3576,1.53],[3612,2.03],[3647,1.67],[3683,2.39],[3718,3.25],[3741,2.39],[3758,2.96],[3789,1.67],[3824,1.67],[3859,2.03],[3878,3.89],[3899,3.25],[3918,2.24],[3942,1.81],[3966,1.81],[3989,1.24],[4013,0.96],[4048,1.67],[4084,1.46],[4119,1.53],[4154,1.46],[4201,1.53],[4237,2.1],[4260,2.39],[4284,1.89],[4307,2.67],[4343,2.03],[4366,4.14],[4385,3.53],[4402,3.81],[4425,3.1],[4449,1.81],[4484,2.03],[4520,1.67],[4555,1.24],[4590,1.53],[4619,2.17],[4649,1.24],[4685,1.81],[4720,1.24],[4755,1.81],[4791,1.46],[4826,1.24],[4862,1.81],[4897,1.24],[4932,1.53],[4968,1.67],[5003,2.53],[5038,1.81],[5074,1.39],[5109,2.39],[5145,1.53],[5180,1.1],[5215,1.67],[5239,2.46],[5274,1.31],[5310,1.53],[5345,1.67],[5380,1.39],[5416,1.74],[5451,1.67],[5475,2.42],[5510,1.24],[5545,1.53],[5581,1.67],[5616,1.39],[5652,1.53],[5687,1.24],[5722,1.31],[5757,1.1],[5793,0.96],[5828,1.39],[5864,1.31],[5899,1.1],[5934,1.17],[5970,1.39],[6005,1.31],[6041,1.1],[6076,1.24],[6111,1.39],[6147,1.24],[6182,1.31],[6218,1.24],[6253,1.17],[6288,1.31],[6324,1.17],[6359,1.24],[6394,1.31],[6430,1.24],[6465,1.39],[6501,1.17],[6536,1.03],[6571,1.1],[6606,1.24],[6642,1.39],[6677,1.74],[6713,1.46],[6748,1.24],[6783,1.31],[6819,1.39],[6854,1.24],[6890,1.31],[6925,1.81],[6944,2.89],[6960,1.39],[6996,1.24],[7031,1.46],[7066,1.46],[7102,1.31],[7137,1.74],[7165,2.03],[7191,1.67]];

interface Series { data: Pt[]; color: string; }
interface PanelDef {
  id: string;
  top: number;
  bottom: number;
  axisX: number;
  domain: [number, number];
  minorStep: number;
  labels: number[];
  grid: number[];
  gridColor: string;
  series: Series[];
}

const panels: PanelDef[] = [
  { id: 'verschil', top: 28, bottom: 401, axisX: 209, domain: [-10, 20], minorStep: 5, labels: [-10, 0, 10, 20], grid: [0, 10], gridColor: '#6a6a6a',
    series: [
      { data: verschilMagenta, color: MAGENTA },
      { data: verschilOrange, color: ORANGE },
      { data: verschilPurple, color: PURPLE },
      { data: verschilYellow, color: YELLOW },
    ] },
  { id: 'slib', top: 427, bottom: 799, axisX: 217, domain: [0, 8], minorStep: 1, labels: [0, 2, 4, 6, 8], grid: [2, 4, 6], gridColor: '#9a9a9a',
    series: [{ data: slibT0, color: MAGENTA }] },
  { id: 'uth', top: 838, bottom: 1212, axisX: 217, domain: [0, 30], minorStep: 5, labels: [0, 10, 20, 30], grid: [], gridColor: '#999',
    series: [
      { data: uthRed, color: RED },
      { data: uthOrange, color: ORANGE },
      { data: uthPurple, color: PURPLE },
      { data: uthMagenta, color: MAGENTA },
      { data: uthYellow, color: YELLOW },
    ] },
  { id: 'diepte', top: 1255, bottom: 1628, axisX: 217, domain: [-25, 0], minorStep: 2.5, labels: [-25, -20, -15, -10, -5, 0], grid: [], gridColor: '#999',
    series: [
      { data: diepPurple, color: PURPLE },
      { data: diepMagenta, color: MAGENTA },
      { data: diepYellow, color: YELLOW },
      { data: diepOrange, color: ORANGE },
      { data: diepRed, color: RED },
    ] },
  { id: 'ruwheid', top: 1685, bottom: 2058, axisX: 217, domain: [0, 8], minorStep: 1, labels: [0, 2, 4, 6, 8], grid: [], gridColor: '#999',
    series: [
      { data: ruwPurple, color: PURPLE },
      { data: ruwOrange, color: ORANGE },
      { data: ruwMagenta, color: MAGENTA },
      { data: ruwYellow, color: YELLOW },
      { data: ruwRed, color: RED },
    ] },
];

const x = d3.scaleLinear().domain([0, 7000]).range([217, 2387]);

const AXIS_W = 3.5;
const MAJOR = 39;
const MINOR = 20;
const TICK_FONT = 31;

function Panel({ p }: { p: PanelDef }) {
  const y = d3.scaleLinear().domain(p.domain).range([p.bottom, p.top]);
  const line = d3.line<Pt>().x(d => x(d[0])).y(d => y(d[1]));
  const ticks = d3.range(p.domain[0], p.domain[1] + 1e-9, p.minorStep);
  const isMajor = (v: number) => p.labels.some(l => Math.abs(l - v) < 1e-9);
  return (
    <g>
      <defs>
        <clipPath id={`clip-${p.id}`}>
          <rect x={p.axisX} y={p.top - 2} width={WIDTH - p.axisX} height={p.bottom - p.top + 4} />
        </clipPath>
      </defs>
      {p.grid.map(v => (
        <line key={`g${v}`} x1={p.axisX + 7} x2={WIDTH} y1={y(v)} y2={y(v)} stroke={p.gridColor} strokeWidth={1.3} />
      ))}
      <g clipPath={`url(#clip-${p.id})`}>
        {p.series.map((s, i) => (
          <path key={i} d={line(s.data) || ''} fill="none" stroke={s.color} strokeWidth={2} strokeLinejoin="round" />
        ))}
      </g>
      {/* frame: left axis, top and bottom edges */}
      <line x1={p.axisX} x2={p.axisX} y1={p.top} y2={p.bottom} stroke="#000" strokeWidth={AXIS_W} />
      <line x1={p.axisX - MAJOR} x2={WIDTH} y1={p.top} y2={p.top} stroke="#000" strokeWidth={AXIS_W} />
      <line x1={p.axisX - MAJOR} x2={WIDTH} y1={p.bottom} y2={p.bottom} stroke="#000" strokeWidth={AXIS_W} />
      {ticks.map(v => (
        <line key={`t${v}`} x1={p.axisX - (isMajor(v) ? MAJOR : MINOR)} x2={p.axisX} y1={y(v)} y2={y(v)} stroke="#000" strokeWidth={AXIS_W} />
      ))}
      {p.labels.map(v => (
        <text key={`l${v}`} x={p.axisX - 59} y={y(v)} dy="0.36em" textAnchor="end" fontSize={TICK_FONT} fontFamily={FONT} fill="#000">
          {String(v)}
        </text>
      ))}
    </g>
  );
}

export default function App() {
  const p1 = panels[0];
  const y1 = d3.scaleLinear().domain(p1.domain).range([p1.bottom, p1.top]);
  const p2 = panels[1];
  const y2 = d3.scaleLinear().domain(p2.domain).range([p2.bottom, p2.top]);
  const p5 = panels[4];

  return (
    <svg width={WIDTH} height={HEIGHT} viewBox={`0 0 ${WIDTH} ${HEIGHT}`}
      style={{ position: 'absolute', left: 0, top: 0, background: '#fff' }}>
      <rect x={0} y={0} width={WIDTH} height={HEIGHT} fill="#fff" />
      <rect x={3} y={7} width={WIDTH + 40} height={2126} fill="none" stroke="#333" strokeWidth={2.5} />

      {panels.map(p => <Panel key={p.id} p={p} />)}

      {/* section markers */}
      {markerNames.map((name, i) => (
        <g key={name}>
          <line x1={x(markerX[i])} x2={x(markerX[i])} y1={y1(markerLow[i])} y2={y1(markerHigh[i])} stroke="#222" strokeWidth={1.3} />
          <text x={x(markerX[i])} y={y1(markerHigh[i]) - 8} textAnchor="middle" fontSize={31} fontWeight="bold" fontFamily={FONT}>{name}</text>
        </g>
      ))}

      {/* sample crosses */}
      {sampleDates.map((label, i) => {
        const cx = x(sampleX[i]);
        const cy = y2(sampleSlib[i]);
        return (
          <g key={`s${i}`}>
            <path d={`M${cx - 19},${cy}H${cx + 19}M${cx},${cy - 19}V${cy + 19}`} stroke="#000" strokeWidth={3} fill="none" />
            <text x={cx + sampleLabelOffset[i][0]} y={cy + sampleLabelOffset[i][1]} fontSize={31} fontFamily={FONT}>{label}</text>
          </g>
        );
      })}

      {/* x axis */}
      {xTickValues.map(v => (
        <line key={`xt${v}`} x1={x(v)} x2={x(v)} y1={p5.bottom} y2={p5.bottom + 20} stroke="#000" strokeWidth={AXIS_W} />
      ))}
      {xTickLabels.map(v => (
        <text key={`xl${v}`} x={x(v)} y={2126} textAnchor="middle" fontSize={TICK_FONT} fontFamily={FONT}>{String(v)}</text>
      ))}

      {/* axis titles */}
      <g fontFamily={FONT} fontSize={31} fill="#000">
        <text transform="translate(47,403) rotate(-90)">Verschil in slibgehalte in %</text>
        <text transform="translate(82,403) rotate(-90)">
          T<tspan fontSize={21} dy={7}>n</tspan><tspan dy={-7}>-T</tspan><tspan fontSize={21} dy={7}>0</tspan><tspan dy={-7}>(09-2009)</tspan>
        </text>
        <text transform="translate(88,757) rotate(-90)">slibgehalte in %</text>
        <text transform="translate(124,757) rotate(-90)">
          september 2009 (T<tspan fontSize={21} dy={7}>0</tspan><tspan dy={-7}>)</tspan>
        </text>
        <text transform="translate(105,1025) rotate(-90)" textAnchor="middle">U+Th (Bq/kg)</text>
        <text transform="translate(94,1441) rotate(-90)" textAnchor="middle">Diepte (t.o.v. NAP)</text>
        <text transform="translate(124,1871) rotate(-90)" textAnchor="middle">Bodemruwheid</text>
      </g>
    </svg>
  );
}
